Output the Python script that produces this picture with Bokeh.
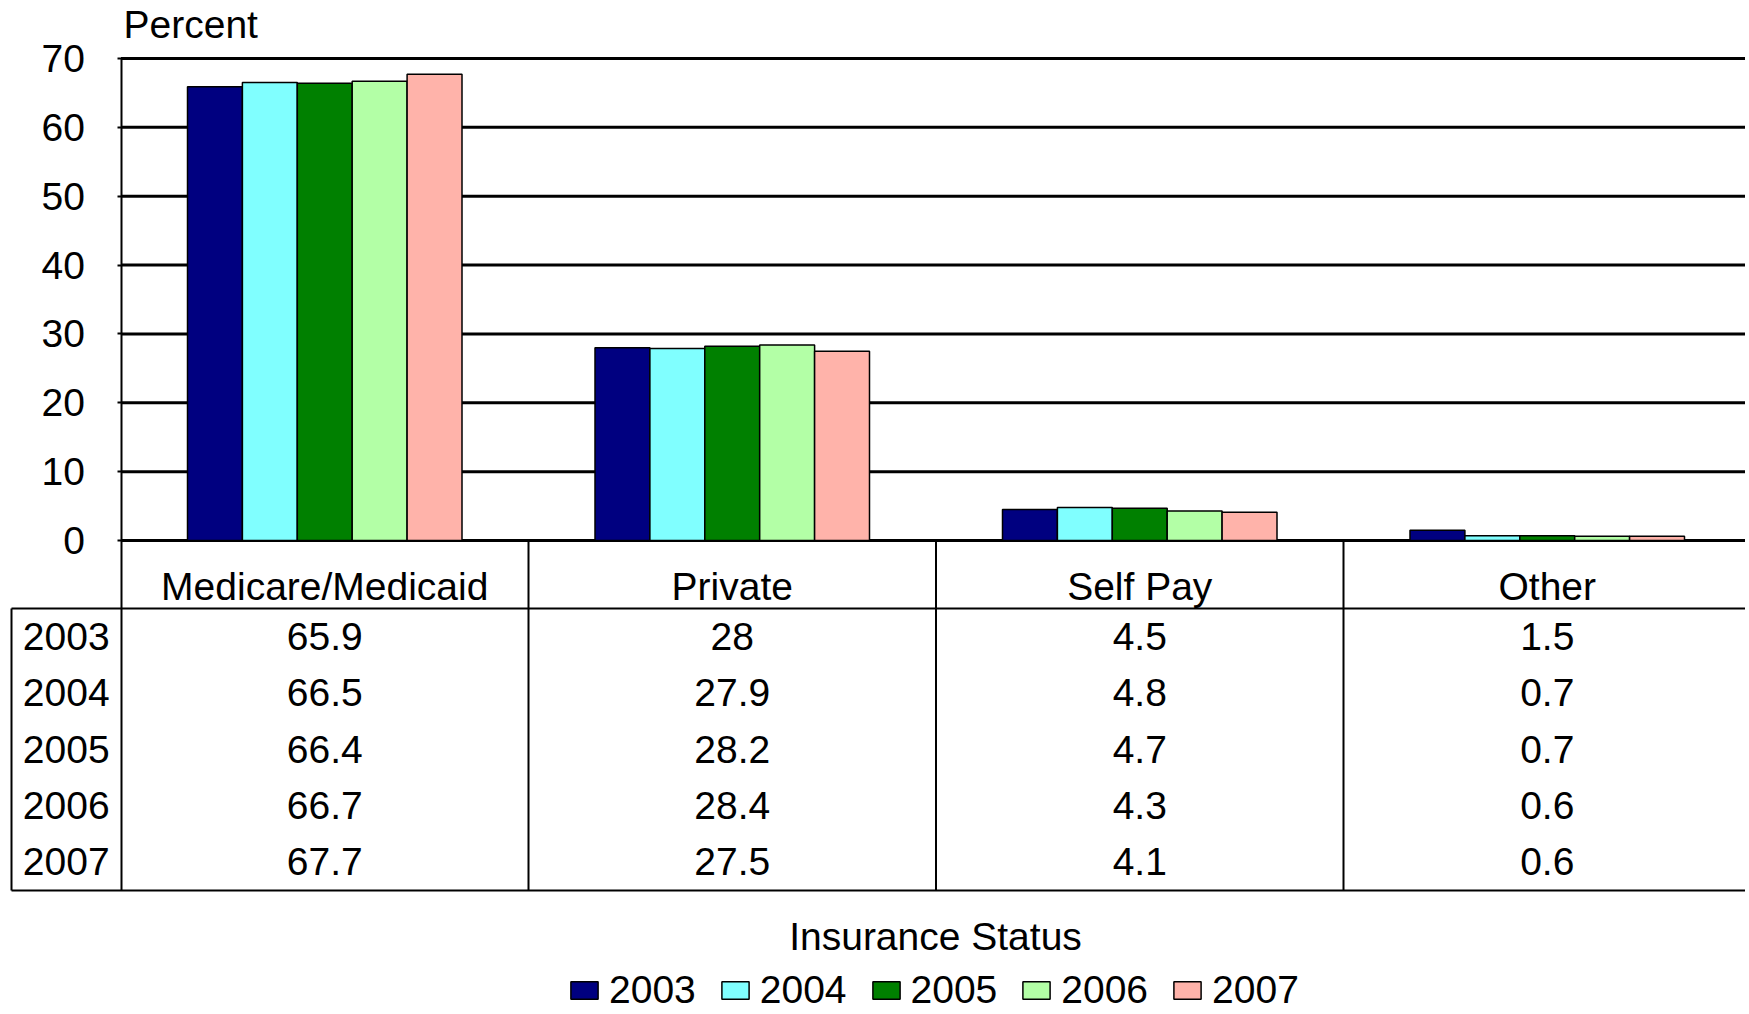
from bokeh.plotting import figure
from bokeh.models import Range1d, FixedTicker, ColumnDataSource, Legend, LegendItem
from bokeh.core.properties import value
from bokeh.embed import file_html
from bokeh.resources import INLINE

# ---------------- data ----------------
categories = ["Medicare/Medicaid", "Private", "Self Pay", "Other"]
years = ["2003", "2004", "2005", "2006", "2007"]
v2003 = [65.9, 28, 4.5, 1.5]
v2004 = [66.5, 27.9, 4.8, 0.7]
v2005 = [66.4, 28.2, 4.7, 0.7]
v2006 = [66.7, 28.4, 4.3, 0.6]
v2007 = [67.7, 27.5, 4.1, 0.6]
series = [v2003, v2004, v2005, v2006, v2007]
y_ticks = [0, 10, 20, 30, 40, 50, 60, 70]
y_label = "Percent"
x_title = "Insurance Status"
colors = ["#000080", "#80FFFF", "#008000", "#B3FFA6", "#FFB3AA"]

# ---------------- layout (page pixels) ----------------
W, H = 1745, 1012
ORIGIN = 0                 # canvas starts at page (0, 0)
AXIS_PX = 120.5            # page x of the value axis
CAT_PX = 407.5             # width of one category
ZERO_PX = 540.0            # page y of value 0
UNIT_PX = (540.0 - 58.0) / 70.0
TABLE_LEFT_PX = 11
HEADER_BOTTOM_PX = 608
TABLE_BOTTOM_PX = 890
ROW_H = (TABLE_BOTTOM_PX - HEADER_BOTTOM_PX) / 5.0
BAR_W = 54.9 / CAT_PX
TXT_SHIFT = 14             # compensation for svg text baseline

FONT = value("Liberation Sans")
FS = "39px"


def dx(px):
    return (px - AXIS_PX) / CAT_PX


def dy(py):
    return (ZERO_PX - py) / UNIT_PX


def tb(py):
    return dy(py - TXT_SHIFT)


x_lo, x_hi = dx(ORIGIN), dx(ORIGIN + W)
p = figure(width=W, height=H,
           x_range=Range1d(x_lo, x_hi), y_range=Range1d(dy(ORIGIN + H), dy(ORIGIN)),
           output_backend="svg", toolbar_location=None,
           min_border=0, min_border_left=0, min_border_right=0,
           min_border_top=0, min_border_bottom=0)
p.outline_line_color = None
p.background_fill_color = "white"
p.grid.visible = False
p.xaxis.visible = False

# value axis drawn at x = 0 inside the frame
ya = p.yaxis[0]
ya.fixed_location = 0
ya.bounds = (dy(TABLE_BOTTOM_PX), max(y_ticks))
ya.ticker = FixedTicker(ticks=y_ticks)
ya.major_tick_in = 0
ya.major_tick_out = 4
ya.minor_tick_line_color = None
ya.axis_line_width = 2
ya.axis_line_color = "black"
ya.major_tick_line_width = 2
ya.major_label_standoff = 32
ya.major_label_text_font = "Liberation Sans"
ya.major_label_text_font_size = FS
ya.major_label_text_color = "black"

# horizontal gridlines (incl. zero line)
p.segment(x0=[0] * len(y_ticks), x1=[x_hi] * len(y_ticks), y0=y_ticks, y1=y_ticks,
          line_color="black", line_width=3)

# bars
renderers = []
for j, (yr, vals, col) in enumerate(zip(years, series, colors)):
    src = ColumnDataSource(dict(x=[i + 0.5 + (j - 2) * BAR_W for i in range(len(categories))],
                                top=vals))
    r = p.vbar(x="x", top="top", bottom=0, width=BAR_W, source=src,
               fill_color=col, line_color="black", line_width=1.5)
    renderers.append(r)

# table lines
y_hb = dy(HEADER_BOTTOM_PX)
y_tb = dy(TABLE_BOTTOM_PX)
x_tl = dx(TABLE_LEFT_PX)
p.segment(x0=[x_tl, x_tl], x1=[x_hi, x_hi], y0=[y_hb, y_tb], y1=[y_hb, y_tb],
          line_color="black", line_width=2)
p.segment(x0=[x_tl], x1=[x_tl], y0=[y_hb], y1=[y_tb], line_color="black", line_width=2)
seps = list(range(1, len(categories)))
p.segment(x0=seps, x1=seps, y0=[0] * len(seps), y1=[y_tb] * len(seps),
          line_color="black", line_width=2)

# header row (category names)
p.text(x=[i + 0.5 for i in range(len(categories))], y=[tb(600)] * len(categories),
       text=categories, text_align="center", text_baseline="alphabetic",
       text_font=FONT, text_font_size=FS, text_color="black")

# table body
tx, ty, tt = [], [], []
for j, (yr, vals) in enumerate(zip(years, series)):
    base = tb(HEADER_BOTTOM_PX + ROW_H * (j + 0.5) + 13.5)
    tx.append(x_tl / 2.0)
    ty.append(base)
    tt.append(yr)
    for i, v in enumerate(vals):
        tx.append(i + 0.5)
        ty.append(base)
        tt.append(f"{v:g}")
p.text(x=tx, y=ty, text=tt, text_align="center", text_baseline="alphabetic",
       text_font=FONT, text_font_size=FS, text_color="black")

# y label and x title
p.text(x=[dx(123)], y=[tb(38)], text=[y_label], text_align="left", text_baseline="alphabetic",
       text_font=FONT, text_font_size=FS, text_color="black")
p.text(x=[dx(935)], y=[tb(950)], text=[x_title], text_align="center", text_baseline="alphabetic",
       text_font=FONT, text_font_size=FS, text_color="black")

legend = Legend(items=[LegendItem(label=yr, renderers=[r]) for yr, r in zip(years, renderers)],
                orientation="horizontal", location=(567, 0),
                glyph_width=34, glyph_height=22, label_standoff=8, spacing=22,
                padding=0, margin=0, border_line_color=None, background_fill_alpha=0,
                label_text_font="Liberation Sans", label_text_font_size=FS,
                label_text_color="black")
p.add_layout(legend)

open("out.html", "w").write(file_html(p, INLINE))
